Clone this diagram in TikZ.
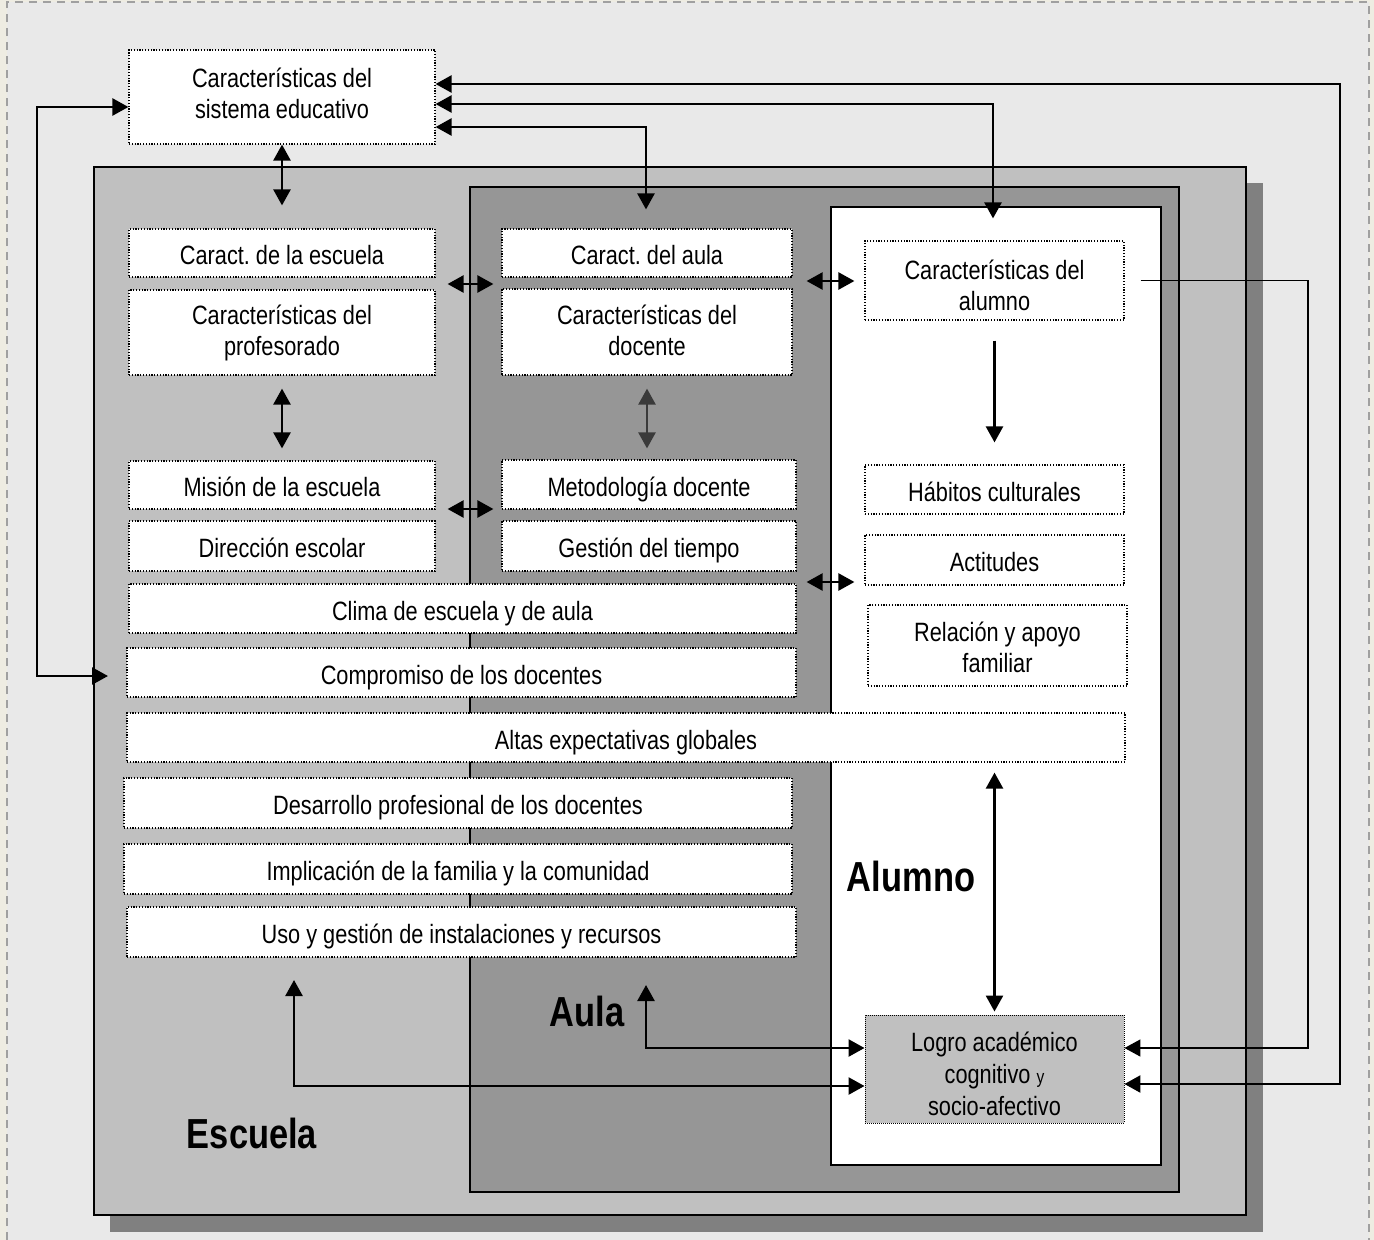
\documentclass[tikz,border=0pt]{standalone}
\usepackage{fontspec}
\setmainfont[FakeStretch=0.82]{Liberation Sans}
\usetikzlibrary{arrows.meta}
\frenchspacing
\definecolor{bgout}{HTML}{EEECE2}
\definecolor{bgin}{HTML}{E9E9E9}
\definecolor{framec}{HTML}{A0A0A0}
\definecolor{escfill}{HTML}{C0C0C0}
\definecolor{aulafill}{HTML}{969696}
\definecolor{shadowc}{HTML}{808080}
\definecolor{graydark}{HTML}{3A3A3A}
\begin{document}
\begin{tikzpicture}[x=1pt,y=-1pt,
  box/.style={draw, line width=1.2pt, dash pattern=on 1.2pt off 1.6pt, fill=white,
    align=center, inner sep=0pt, font=\fontsize{26.5}{31}\selectfont},
  one/.style={box, text height=23pt, text depth=0pt},
  txt/.style={align=center, inner sep=0pt, font=\fontsize{26.5}{31}\selectfont},
  logrobox/.style={box, fill=escfill, line width=0.9pt, dash pattern=on 0.9pt off 1.1pt},
  region/.style={draw=black, line width=2pt},
  lbl/.style={font=\fontsize{42}{48}\selectfont\bfseries, inner sep=0pt},
  tipA/.tip={Triangle[length=16pt,width=17pt]},
  conn/.style={line width=2.5pt, tipA-tipA},
  conn1/.style={line width=2.5pt, -tipA},
  thinconn/.style={line width=1.6pt, -tipA}]
\useasboundingbox (0,0) rectangle (1374,1240);
% background
\fill[bgout] (0,0) rectangle (1374,1240);
\fill[bgin] (7,2) rectangle (1369,1240);
\draw[framec, line width=2pt, dash pattern=on 8pt off 6pt] (7,1240) -- (7,2) -- (1369,2) -- (1369,1240);
% regions
\fill[shadowc] (110,183) rectangle (1263,1232);
\draw[region, fill=escfill] (94,167) rectangle (1246,1215);
\draw[region, fill=aulafill] (470,187) rectangle (1179,1192);
\draw[region, fill=white] (831,207) rectangle (1161,1165);
% region labels
\node[lbl] (lesc) at (252,1133) {Escuela};
\node[lbl] (laula) at (587,1011) {Aula};
\node[lbl] (lalu) at (911,876) {Alumno};
% boxes
\node[box, minimum width=306pt, minimum height=94pt] (sis) at (282,97) {};
\node[txt] (sistxt) at (282,93.5) {Características del\\sistema educativo};
\node[one, minimum width=306pt, minimum height=48pt] (esc1) at (282,253) {Caract. de la escuela};
\node[box, minimum width=306pt, minimum height=85pt] (esc2) at (282,332.5) {Características del\\profesorado};
\node[one, minimum width=306pt, minimum height=48pt] (esc3) at (282,485) {Misión de la escuela};
\node[one, minimum width=306pt, minimum height=50pt] (esc4) at (282,546) {Dirección escolar};
\node[one, minimum width=290pt, minimum height=48pt] (aula1) at (647,253) {Caract. del aula};
\node[box, minimum width=290pt, minimum height=86pt] (aula2) at (647,332) {};
\node[txt] (aula2txt) at (647,330.5) {Características del\\docente};
\node[one, minimum width=294pt, minimum height=49pt] (aula3) at (649,484.5) {Metodología docente};
\node[one, minimum width=294pt, minimum height=50pt] (aula4) at (649,546) {Gestión del tiempo};
\node[one, minimum width=667pt, minimum height=49pt] (clima) at (462.5,608.5) {Clima de escuela y de aula};
\node[one, minimum width=669pt, minimum height=49pt] (compromiso) at (461.5,672.5) {Compromiso de los docentes};
\node[one, minimum width=998pt, minimum height=49pt] (altas) at (626,737.5) {Altas expectativas globales};
\node[one, minimum width=668pt, minimum height=50pt] (desarrollo) at (458,803) {Desarrollo profesional de los docentes};
\node[one, minimum width=668pt, minimum height=50pt] (implicacion) at (458,869) {Implicación de la familia y la comunidad};
\node[one, minimum width=669pt, minimum height=50pt] (uso) at (461.5,932) {Uso y gestión de instalaciones y recursos};
\node[box, minimum width=259pt, minimum height=79pt] (alu1) at (994.5,280.5) {};
\node[txt] (alu1txt) at (994.5,285.5) {Características del\\alumno};
\node[one, minimum width=259pt, minimum height=49pt] (habitos) at (994.5,489.5) {Hábitos culturales};
\node[one, minimum width=259pt, minimum height=50pt] (actitudes) at (994.5,560) {Actitudes};
\node[box, minimum width=259pt, minimum height=81pt] (relacion) at (997.5,645.5) {};
\node[txt] (relaciontxt) at (997.5,647.5) {Relación y apoyo\\familiar};
\node[logrobox, minimum width=259pt, minimum height=108pt] (logro) at (994.5,1069) {};
\node[txt, font=\fontsize{26.5}{32}\selectfont] (logrotxt) at (994.5,1074) {Logro académico\\cognitivo {\fontsize{19}{32}\selectfont y}\\socio-afectivo};
% coordinates for free ends
\coordinate (yA) at (0,284);
\coordinate (yB) at (0,281);
\coordinate (yC) at (0,509);
\coordinate (yD) at (0,582);
\coordinate (ra) at (1340,84);
\coordinate (rb) at (1340,1084);
\coordinate (sb) at (993,104);
\coordinate (sc) at (646,127);
\coordinate (la) at (37,107);
\coordinate (lb) at (37,676);
\coordinate (lc) at (108,676);
\coordinate (ka) at ([xshift=16pt]alu1.east);
\coordinate (kb) at (1308,282);
\coordinate (kc) at (1308,1048);
\coordinate (ma) at (646,985);
\coordinate (mb) at (646,1048);
\coordinate (na) at (294,980);
\coordinate (nb) at (294,1086);
% connectors
\draw[conn, shorten >=23pt] (sis.south) -- (esc1.north);
\draw[conn, shorten <=13pt, shorten >=12pt] (esc2.south) -- (esc3.north);
\draw[conn, draw=graydark, shorten <=13pt, shorten >=11pt] (aula2.south) -- (aula2.south |- aula3.north);
\draw[conn, shorten <=12pt, shorten >=8pt] (esc1.east |- yA) -- (aula1.west |- yA);
\draw[conn, shorten <=14pt, shorten >=10pt] (aula1.east |- yB) -- (alu1.west |- yB);
\draw[conn, shorten <=12pt, shorten >=8pt] (esc3.east |- yC) -- (aula3.west |- yC);
\draw[conn, shorten <=10pt, shorten >=10pt] (aula4.east |- yD) -- (actitudes.west |- yD);
\draw[conn1, shorten <=20pt, shorten >=22pt] (alu1.south) -- (alu1.south |- habitos.north);
\draw[conn, shorten <=10pt, shorten >=3pt] (logro.north |- altas.south) -- (logro.north);
\draw[conn] (sis.east |- ra) -- (ra) -- (rb) -- (logro.east |- rb);
\draw[conn, shorten >=22pt] (sis.east |- sb) -- (sb) -- (sb |- alu1.north);
\draw[conn, shorten >=19pt] (sis.east |- sc) -- (sc) -- (sc |- aula1.north);
\draw[conn] (lc) -- (lb) -- (la) -- (sis.west |- la);
\draw[thinconn] (ka) -- (ka -| kb) -- (kc) -- (logro.east |- kc);
\draw[conn] (ma) -- (mb) -- (logro.west |- mb);
\draw[conn] (na) -- (nb) -- (logro.west |- nb);
\end{tikzpicture}
\end{document}
